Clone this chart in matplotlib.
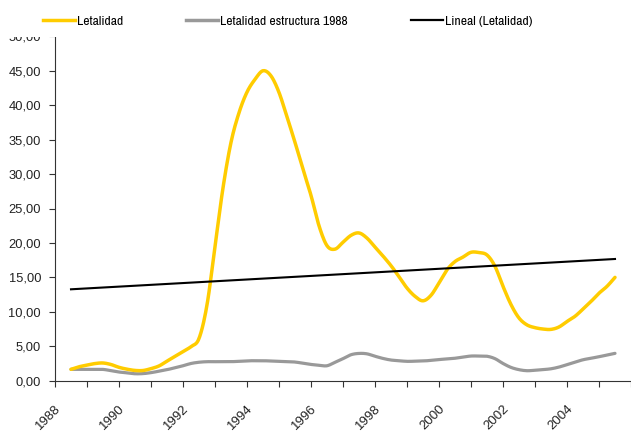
import numpy as np
import matplotlib
matplotlib.use("Agg")
import matplotlib.pyplot as plt
from matplotlib.transforms import ScaledTranslation
from matplotlib.patches import Rectangle
from matplotlib.lines import Line2D
from matplotlib import font_manager
from matplotlib.font_manager import FontProperties

# Quarterly observations, 1988 Q1 .. 2005 Q1
periods = 1988 + np.arange(69) / 4.0

letalidad = [
    1.65, 2.02, 2.26, 2.49, 2.57, 2.35, 1.94, 1.67, 1.49, 1.48,
    1.75, 2.14, 2.84, 3.54, 4.22, 4.95, 6.13, 11.0, 19.5, 28.0,
    34.6, 38.9, 41.9, 43.75, 45.0, 44.25, 41.85, 38.3, 34.6, 30.65,
    26.9, 22.5, 19.6, 19.1, 20.1, 21.1, 21.45, 20.7, 19.4, 18.1,
    16.7, 15.1, 13.45, 12.25, 11.6, 12.4, 14.2, 16.1, 17.3, 17.95,
    18.64, 18.6, 18.25, 16.6, 13.7, 11.05, 9.1, 8.1, 7.7, 7.5,
    7.45, 7.8, 8.6, 9.35, 10.4, 11.5, 12.7, 13.7, 15.0,
]

letalidad_1988 = [
    1.65, 1.65, 1.65, 1.65, 1.64, 1.46, 1.26, 1.14, 1.01, 1.03,
    1.17, 1.38, 1.60, 1.88, 2.17, 2.50, 2.68, 2.76, 2.76, 2.76,
    2.76, 2.82, 2.89, 2.90, 2.90, 2.86, 2.82, 2.76, 2.71, 2.53,
    2.36, 2.24, 2.17, 2.67, 3.20, 3.77, 3.96, 3.90, 3.55, 3.23,
    3.00, 2.90, 2.81, 2.83, 2.86, 2.95, 3.07, 3.16, 3.26, 3.43,
    3.58, 3.58, 3.55, 3.20, 2.50, 1.93, 1.60, 1.45, 1.52, 1.61,
    1.73, 1.98, 2.33, 2.70, 3.04, 3.26, 3.48, 3.73, 3.97,
]

# Linear trend of Letalidad (end points)
trend_years = [1988.0, 2005.0]
trend_values = [13.27, 17.67]

year_labels = ["1988", "1990", "1992", "1994", "1996", "1998", "2000", "2002", "2004"]
label_years = [1988, 1990, 1992, 1994, 1996, 1998, 2000, 2002, 2004]
y_ticks = [0, 5, 10, 15, 20, 25, 30, 35, 40, 45, 50]

YELLOW = "#FFCC00"
GREY = "#999999"


def smooth(x, y, n=12):
    """Catmull-Rom curve through the points (like a smoothed line chart)."""
    x = np.asarray(x, float)
    y = np.asarray(y, float)
    px = np.concatenate([[2 * x[0] - x[1]], x, [2 * x[-1] - x[-2]]])
    py = np.concatenate([[2 * y[0] - y[1]], y, [2 * y[-1] - y[-2]]])
    xs, ys = [], []
    t = np.linspace(0, 1, n, endpoint=False)
    for i in range(1, len(px) - 2):
        for arr, a in ((ys, py), (xs, px)):
            a0, a1, a2, a3 = a[i - 1], a[i], a[i + 1], a[i + 2]
            arr.extend(0.5 * ((2 * a1) + (-a0 + a2) * t
                              + (2 * a0 - 5 * a1 + 4 * a2 - a3) * t ** 2
                              + (-a0 + 3 * a1 - 3 * a2 + a3) * t ** 3))
    xs.append(x[-1])
    ys.append(y[-1])
    return np.array(xs), np.array(ys)


available = {f.name for f in font_manager.fontManager.ttflist}
base_font = "Liberation Sans" if "Liberation Sans" in available else "DejaVu Sans"
plt.rcParams["font.family"] = [base_font, "DejaVu Sans"]

# A narrow face for the legend, if one is installed
narrow_path = None
for f in font_manager.fontManager.ttflist:
    if "Narrow" in f.name and f.weight in (400, "normal") and f.style == "normal":
        narrow_path = f.fname
        break
if narrow_path:
    legend_prop = FontProperties(fname=narrow_path, size=9.8)
    hl, htp, cs = 2.35, 0.17, 4.6
else:
    legend_prop = FontProperties(family=base_font, size=8.0)
    hl, htp, cs = 2.8, 0.18, 5.5

fig = plt.figure(figsize=(6.31, 4.32), dpi=100)
ax = fig.add_axes([55 / 631, (432 - 380.7) / 432, 576 / 631, (380.7 - 36.3) / 432])

sx, sy = smooth(periods, letalidad)
ax.plot(sx, sy, color=YELLOW, lw=2.5, solid_capstyle="round", zorder=3)
gx, gy = smooth(periods, letalidad_1988)
ax.plot(gx, gy, color=GREY, lw=2.3, solid_capstyle="round", zorder=2)
ax.plot(trend_years, trend_values, color="black", lw=1.5, zorder=4)

ax.set_xlim(1987.5, 1987.5 + 576 / 32.16)
ax.set_ylim(0, 50)

for side in ("top", "right"):
    ax.spines[side].set_visible(False)
for side in ("left", "bottom"):
    ax.spines[side].set_color("#333333")
    ax.spines[side].set_linewidth(0.8)

ax.set_yticks(y_ticks)
ax.set_yticklabels([f"{v:.2f}".replace(".", ",") for v in y_ticks])
ax.tick_params(axis="y", direction="out", length=4, width=0.8, color="#333333",
               pad=6, labelsize=9.3, labelcolor="#222222")

ax.set_xticks(np.arange(1987.5, 2006, 1.0), minor=True)
ax.set_xticks(label_years)
ax.set_xticklabels(year_labels, rotation=45, ha="right", va="center",
                   rotation_mode="anchor")
ax.tick_params(axis="x", which="minor", direction="out", length=4, width=0.8,
               color="#333333")
ax.tick_params(axis="x", which="major", length=0, pad=19, labelsize=9.5,
               labelcolor="#222222")
shift = ScaledTranslation(-12 / 100, 0, fig.dpi_scale_trans)
for lab in ax.get_xticklabels():
    lab.set_transform(lab.get_transform() + shift)

# White strip holding the legend across the top
fig.add_artist(Rectangle((0, (432 - 36.5) / 432), 1, 36.5 / 432, transform=fig.transFigure,
                         facecolor="white", edgecolor="none", zorder=3))

handles = [
    Line2D([], [], color=YELLOW, lw=2.5),
    Line2D([], [], color=GREY, lw=2.5),
    Line2D([], [], color="black", lw=1.6),
]
names = ["Letalidad", "Letalidad estructura 1988", "Lineal (Letalidad)"]
leg = fig.legend(handles, names, loc="center left", ncol=3, frameon=False,
                 bbox_to_anchor=(43 / 631, 1 - 21 / 432), prop=legend_prop,
                 handlelength=hl, handletextpad=htp, columnspacing=cs,
                 borderaxespad=0, borderpad=0)
leg.set_zorder(5)

fig.savefig("out.png", dpi=100, facecolor="white")
